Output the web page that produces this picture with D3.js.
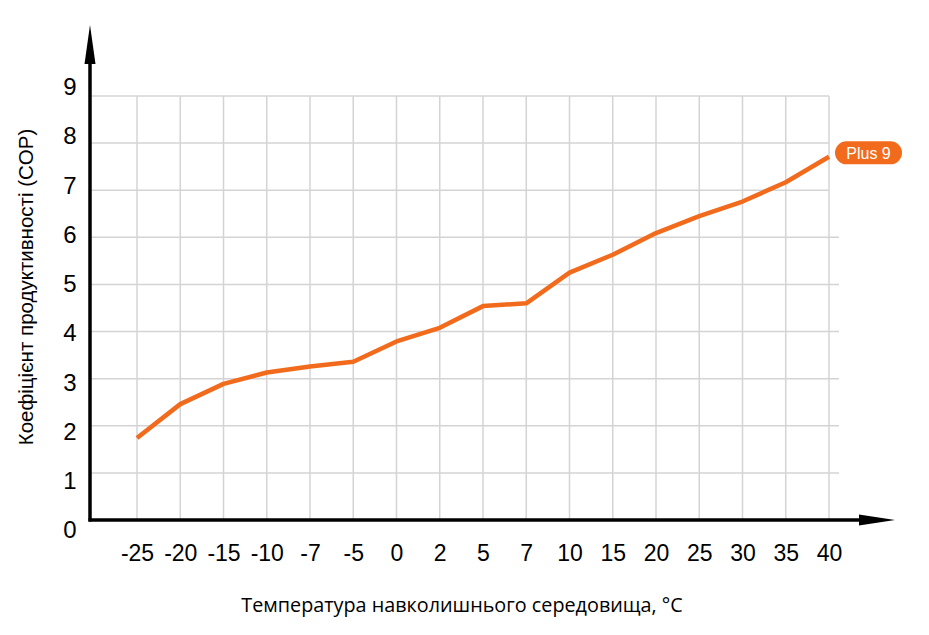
<!DOCTYPE html>
<html>
<head>
<meta charset="utf-8">
<script src="https://cdn.jsdelivr.net/npm/d3@7"></script>
<style>
  body { margin: 0; background: #fff; }
  svg { display: block; }
</style>
</head>
<body>
<div id="cop-chart"></div>
<script>
const temperatures = ["-25", "-20", "-15", "-10", "-7", "-5", "0", "2", "5", "7", "10", "15", "20", "25", "30", "35", "40"];
const copValues = [1.74, 2.46, 2.89, 3.13, 3.26, 3.36, 3.79, 4.08, 4.54, 4.60, 5.25, 5.63, 6.09, 6.45, 6.76, 7.17, 7.71];
const yTicks = [0, 1, 2, 3, 4, 5, 6, 7, 8, 9];
const seriesName = "Plus 9";

const width = 929;
const height = 635;
const orange = "#f26b1d";
const gridColor = "#d4d4d4";

const svg = d3.select("#cop-chart")
    .append("svg")
    .attr("width", width)
    .attr("height", height);

// scales
const x = d3.scalePoint()
    .domain(temperatures)
    .range([137, 829]);

const y = d3.scaleLinear()
    .domain([0, 9])
    .range([520, 96]);

// tick labels sit slightly off the grid in the original
const yLabel = d3.scaleLinear()
    .domain([0, 9])
    .range([530, 87]);

// grid
svg.append("g")
    .selectAll("line")
    .data(temperatures)
    .join("line")
    .attr("x1", d => x(d))
    .attr("x2", d => x(d))
    .attr("y1", y(9))
    .attr("y2", y(0))
    .attr("stroke", gridColor)
    .attr("stroke-width", 1.5);

svg.append("g")
    .selectAll("line")
    .data(yTicks.filter(d => d > 0))
    .join("line")
    .attr("x1", 90)
    .attr("x2", d => d >= 7 ? x("40") : x("40") + 10)
    .attr("y1", d => y(d))
    .attr("y2", d => y(d))
    .attr("stroke", gridColor)
    .attr("stroke-width", 1.5);

// axes with arrows
svg.append("line")
    .attr("x1", 90).attr("x2", 90)
    .attr("y1", y(0) + 1.5).attr("y2", 60)
    .attr("stroke", "#000")
    .attr("stroke-width", 3.5);

svg.append("path")
    .attr("d", "M90,25 L84.5,64 L95.5,64 Z")
    .attr("fill", "#000");

svg.append("line")
    .attr("x1", 88.5).attr("x2", 862)
    .attr("y1", y(0)).attr("y2", y(0))
    .attr("stroke", "#000")
    .attr("stroke-width", 3.5);

svg.append("path")
    .attr("d", `M895,${y(0)} L859,${y(0) - 5.5} L859,${y(0) + 5.5} Z`)
    .attr("fill", "#000");

// tick labels
const xAxis = svg.append("g")
    .attr("transform", `translate(0, 545)`)
    .call(d3.axisBottom(x).tickSize(0).tickPadding(0));
xAxis.select(".domain").remove();
xAxis.selectAll("text")
    .attr("font-family", "'Liberation Sans', Arial, sans-serif")
    .attr("font-size", 23)
    .attr("fill", "#000");

const yAxis = svg.append("g")
    .attr("transform", `translate(81, 0)`)
    .call(d3.axisLeft(yLabel).tickValues(yTicks).tickFormat(d3.format("d")).tickSize(0).tickPadding(0));
yAxis.select(".domain").remove();
yAxis.selectAll("text")
    .attr("text-anchor", "middle")
    .attr("x", -11)
    .attr("font-family", "'Liberation Sans', Arial, sans-serif")
    .attr("font-size", 24)
    .attr("fill", "#000");

// the line
const line = d3.line()
    .x((d, i) => x(temperatures[i]))
    .y(d => y(d));

svg.append("path")
    .datum(copValues)
    .attr("d", line)
    .attr("fill", "none")
    .attr("stroke", orange)
    .attr("stroke-width", 4.5)
    .attr("stroke-linejoin", "round");

// series badge
const last = copValues[copValues.length - 1];
const badge = svg.append("g")
    .attr("transform", `translate(${x("40") + 6}, ${y(last) - 4})`);

badge.append("rect")
    .attr("x", 0)
    .attr("y", -11.5)
    .attr("width", 67)
    .attr("height", 23)
    .attr("rx", 11.5)
    .attr("fill", orange);

badge.append("text")
    .attr("x", 33.5)
    .attr("y", 6)
    .attr("text-anchor", "middle")
    .attr("font-family", "'Liberation Sans', Arial, sans-serif")
    .attr("font-size", 16)
    .attr("fill", "#fff")
    .text(seriesName);

// axis titles
svg.append("text")
    .attr("text-anchor", "middle")
    .attr("x", 462)
    .attr("y", 612)
    .attr("font-family", "'Open Sans', sans-serif")
    .attr("font-size", 19.8)
    .attr("fill", "#000")
    .text("Температура навколишнього середовища, °C");

svg.append("text")
    .attr("text-anchor", "middle")
    .attr("transform", "translate(33, 287) rotate(-90)")
    .attr("font-family", "'Liberation Sans', Arial, sans-serif")
    .attr("font-size", 20.5)
    .attr("fill", "#000")
    .text("Коефіцієнт продуктивності (COP)");
</script>
</body>
</html>
